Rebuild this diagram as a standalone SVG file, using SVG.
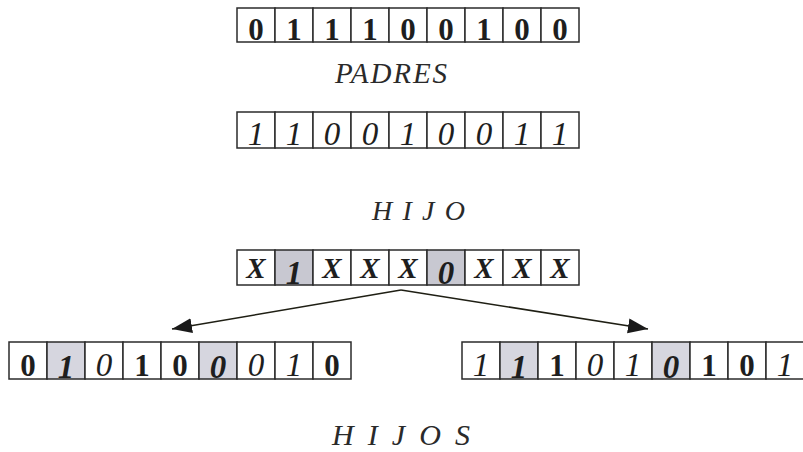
<svg xmlns="http://www.w3.org/2000/svg" width="803" height="452" viewBox="0 0 803 452">
  <style>
    .cell { fill: #ffffff; stroke: #2b2b2b; stroke-width: 1.5; }
    .shade { fill: #c8c8d1; stroke: #2b2b2b; stroke-width: 1.5; }
    .shade2 { fill: #d6d6df; stroke: #2b2b2b; stroke-width: 1.5; }
    .d { fill: #1e1e1e; text-anchor: middle; }
    .b { font-weight: bold; }
    .i { font-style: italic; }
    .bi { font-weight: bold; font-style: italic; }
    .lbl { font-style: italic; fill: #2a2a2a; }
    .conn { stroke: #1f1f14; stroke-width: 1.6; fill: none; marker-end: url(#head); }
  </style>
  <defs>
    <marker id="head" markerUnits="userSpaceOnUse" markerWidth="22" markerHeight="16" refX="20" refY="7.5" orient="auto">
      <path d="M0,0 L20,7.5 L0,15 z" fill="#1a1a1a"/>
    </marker>
  </defs>
  <rect width="803" height="452" fill="#ffffff"/>

  <!-- first parent: bold digits -->
  <g id="padre1" font-family="Liberation Serif, serif" font-size="31">
    <rect class="cell" x="237" y="8" width="38" height="34"/>
    <rect class="cell" x="275" y="8" width="38" height="34"/>
    <rect class="cell" x="313" y="8" width="38" height="34"/>
    <rect class="cell" x="351" y="8" width="38" height="34"/>
    <rect class="cell" x="389" y="8" width="38" height="34"/>
    <rect class="cell" x="427" y="8" width="38" height="34"/>
    <rect class="cell" x="465" y="8" width="38" height="34"/>
    <rect class="cell" x="503" y="8" width="38" height="34"/>
    <rect class="cell" x="541" y="8" width="38" height="34"/>
    <text class="d b" x="256" y="40">0</text>
    <text class="d b" x="294" y="40">1</text>
    <text class="d b" x="332" y="40">1</text>
    <text class="d b" x="370" y="40">1</text>
    <text class="d b" x="408" y="40">0</text>
    <text class="d b" x="446" y="40">0</text>
    <text class="d b" x="484" y="40">1</text>
    <text class="d b" x="522" y="40">0</text>
    <text class="d b" x="560" y="40">0</text>
  </g>

  <g id="padres-label" font-family="Liberation Serif, serif">
    <text class="lbl" x="335" y="83" font-size="29" textLength="112" lengthAdjust="spacing">PADRES</text>
  </g>

  <!-- second parent: italic digits -->
  <g id="padre2" font-family="Liberation Serif, serif" font-size="33">
    <rect class="cell" x="237" y="112" width="38" height="36"/>
    <rect class="cell" x="275" y="112" width="38" height="36"/>
    <rect class="cell" x="313" y="112" width="38" height="36"/>
    <rect class="cell" x="351" y="112" width="38" height="36"/>
    <rect class="cell" x="389" y="112" width="38" height="36"/>
    <rect class="cell" x="427" y="112" width="38" height="36"/>
    <rect class="cell" x="465" y="112" width="38" height="36"/>
    <rect class="cell" x="503" y="112" width="38" height="36"/>
    <rect class="cell" x="541" y="112" width="38" height="36"/>
    <text class="d i" x="256" y="145">1</text>
    <text class="d i" x="294" y="145">1</text>
    <text class="d i" x="332" y="145">0</text>
    <text class="d i" x="370" y="145">0</text>
    <text class="d i" x="408" y="145">1</text>
    <text class="d i" x="446" y="145">0</text>
    <text class="d i" x="484" y="145">0</text>
    <text class="d i" x="522" y="145">1</text>
    <text class="d i" x="560" y="145">1</text>
  </g>

  <g id="hijo-label" font-family="Liberation Serif, serif">
    <text class="lbl" x="372" y="220" font-size="28" textLength="93" lengthAdjust="spacing">HIJO</text>
  </g>

  <!-- child template -->
  <g id="hijo" font-family="Liberation Serif, serif" font-size="29">
    <rect class="cell" x="237" y="250" width="38" height="35"/>
    <rect class="shade" x="275" y="250" width="38" height="35"/>
    <rect class="cell" x="313" y="250" width="38" height="35"/>
    <rect class="cell" x="351" y="250" width="38" height="35"/>
    <rect class="cell" x="389" y="250" width="38" height="35"/>
    <rect class="shade" x="427" y="250" width="38" height="35"/>
    <rect class="cell" x="465" y="250" width="38" height="35"/>
    <rect class="cell" x="503" y="250" width="38" height="35"/>
    <rect class="cell" x="541" y="250" width="38" height="35"/>
    <text class="d bi" x="256" y="278">X</text>
    <text class="d bi" x="294" y="284" font-size="33">1</text>
    <text class="d bi" x="332" y="278">X</text>
    <text class="d bi" x="370" y="278">X</text>
    <text class="d bi" x="408" y="278">X</text>
    <text class="d bi" x="446" y="284" font-size="33">0</text>
    <text class="d bi" x="484" y="278">X</text>
    <text class="d bi" x="522" y="278">X</text>
    <text class="d bi" x="560" y="278">X</text>
  </g>

  <g id="connectors">
    <line class="conn" x1="401" y1="290" x2="172" y2="329"/>
    <line class="conn" x1="401" y1="290" x2="648" y2="329"/>
  </g>

  <!-- left offspring -->
  <g id="hijo1" font-family="Liberation Serif, serif" font-size="31">
    <rect class="cell" x="9" y="342" width="38" height="37"/>
    <rect class="shade2" x="47" y="342" width="38" height="37"/>
    <rect class="cell" x="85" y="342" width="38" height="37"/>
    <rect class="cell" x="123" y="342" width="38" height="37"/>
    <rect class="cell" x="161" y="342" width="38" height="37"/>
    <rect class="shade2" x="199" y="342" width="38" height="37"/>
    <rect class="cell" x="237" y="342" width="38" height="37"/>
    <rect class="cell" x="275" y="342" width="38" height="37"/>
    <rect class="cell" x="313" y="342" width="38" height="37"/>
    <text class="d b" x="28" y="376">0</text>
    <text class="d bi" x="66" y="378" font-size="33">1</text>
    <text class="d i" x="104" y="376" font-size="33">0</text>
    <text class="d b" x="142" y="376">1</text>
    <text class="d b" x="180" y="376">0</text>
    <text class="d bi" x="218" y="378" font-size="33">0</text>
    <text class="d i" x="256" y="376" font-size="33">0</text>
    <text class="d i" x="294" y="376" font-size="33">1</text>
    <text class="d b" x="332" y="376">0</text>
  </g>

  <!-- right offspring -->
  <g id="hijo2" font-family="Liberation Serif, serif" font-size="31">
    <rect class="cell" x="462" y="342" width="38" height="37"/>
    <rect class="shade2" x="500" y="342" width="38" height="37"/>
    <rect class="cell" x="538" y="342" width="38" height="37"/>
    <rect class="cell" x="576" y="342" width="38" height="37"/>
    <rect class="cell" x="614" y="342" width="38" height="37"/>
    <rect class="shade2" x="652" y="342" width="38" height="37"/>
    <rect class="cell" x="690" y="342" width="38" height="37"/>
    <rect class="cell" x="728" y="342" width="38" height="37"/>
    <rect class="cell" x="766" y="342" width="40" height="37"/>
    <text class="d i" x="481" y="376" font-size="33">1</text>
    <text class="d bi" x="519" y="378" font-size="33">1</text>
    <text class="d b" x="557" y="376">1</text>
    <text class="d i" x="595" y="376" font-size="33">0</text>
    <text class="d i" x="633" y="376" font-size="33">1</text>
    <text class="d bi" x="671" y="378" font-size="33">0</text>
    <text class="d b" x="709" y="376">1</text>
    <text class="d b" x="747" y="376">0</text>
    <text class="d i" x="785" y="376" font-size="33">1</text>
  </g>

  <g id="hijos-label" font-family="Liberation Serif, serif">
    <text class="lbl" x="332" y="445" font-size="30" textLength="138" lengthAdjust="spacing">HIJOS</text>
  </g>
</svg>
